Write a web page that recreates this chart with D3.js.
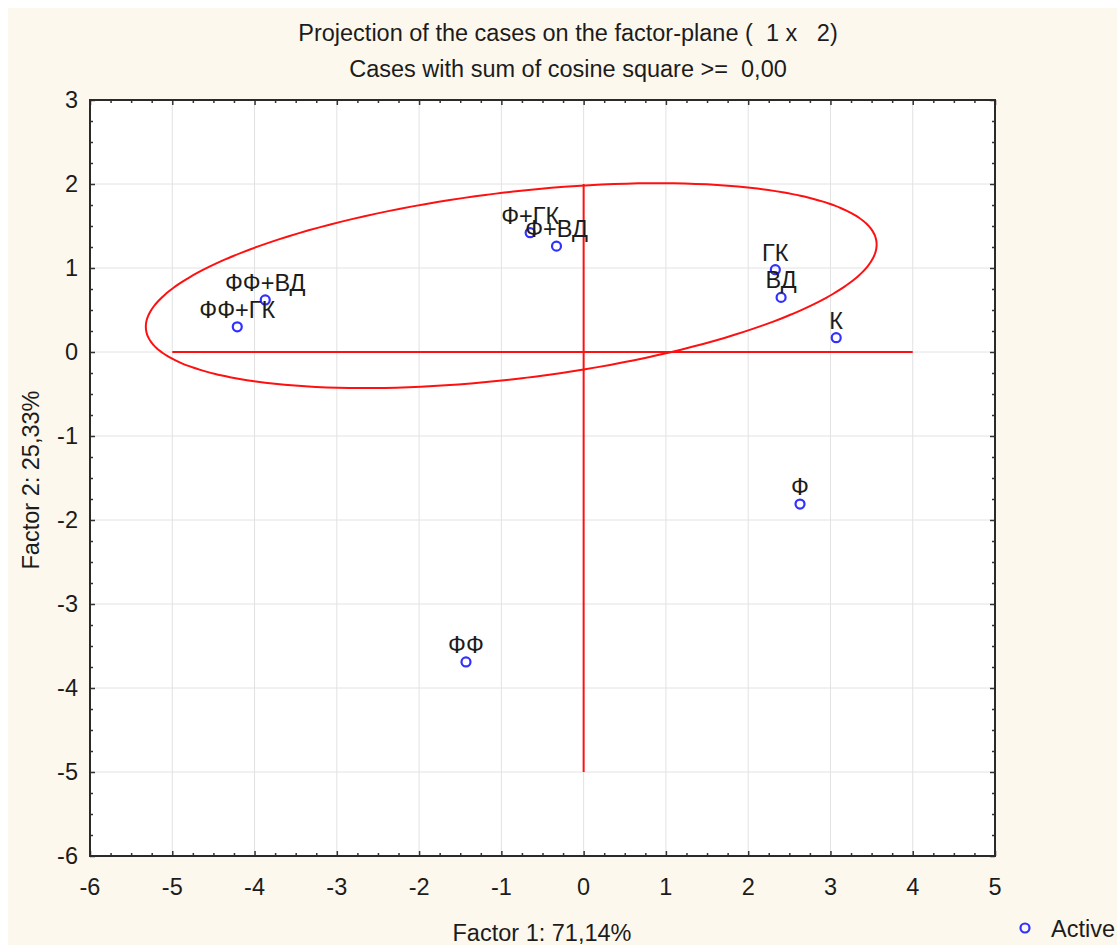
<!DOCTYPE html>
<html>
<head>
<meta charset="utf-8">
<script src="https://cdn.jsdelivr.net/npm/d3@7"></script>
<style>
  html, body { margin: 0; padding: 0; background: #ffffff; }
  svg { display: block; }
  text { font-family: "Liberation Sans", Arial, sans-serif; fill: #1c1c1c; white-space: pre; }
</style>
</head>
<body>
<svg id="chart" width="1117" height="945"></svg>
<script>
// ---- data ----
const labels  = ["Ф+ГК", "Ф+ВД", "ФФ+ВД", "ФФ+ГК", "ГК", "ВД", "К", "Ф", "ФФ"];
const factor1 = [-0.65, -0.33, -3.87, -4.21, 2.33, 2.40, 3.07, 2.63, -1.43];
const factor2 = [1.42, 1.26, 0.62, 0.30, 0.98, 0.65, 0.17, -1.81, -3.69];
const xTicks  = [-6, -5, -4, -3, -2, -1, 0, 1, 2, 3, 4, 5];
const yTicks  = [3, 2, 1, 0, -1, -2, -3, -4, -5, -6];
const hLine   = [[-5, 0], [4, 0]];
const vLine   = [[0, -5], [0, 2]];
const ellipseCenter = [-0.88, 0.79];
const ellipseAxes   = [4.47, 1.11];
const ellipseAngleDeg = 6.7;
const titleLines = ["Projection of the cases on the factor-plane (  1 x   2)",
                    "Cases with sum of cosine square >=  0,00"];
const xTitle = "Factor 1: 71,14%";
const yTitle = "Factor 2: 25,33%";
const legendLabel = "Active";

// ---- layout ----
const svg = d3.select("#chart");
const W = 1117, H = 945;
const M = { left: 90, right: 995, top: 100, bottom: 856 };
const FONT = 23.5;

svg.append("rect").attr("x", 8).attr("y", 8).attr("width", W - 8).attr("height", H - 8)
  .attr("fill", "#fdf8ee");

const x = d3.scaleLinear().domain([-6, 5]).range([M.left, M.right]);
const y = d3.scaleLinear().domain([-6, 3]).range([M.bottom, M.top]);

// plot area
svg.append("rect").attr("x", M.left).attr("y", M.top)
  .attr("width", M.right - M.left).attr("height", M.bottom - M.top)
  .attr("fill", "#ffffff");

// grid
const grid = svg.append("g").attr("stroke", "#e2e2e2").attr("stroke-width", 1);
xTicks.forEach(t => grid.append("line").attr("x1", x(t)).attr("x2", x(t))
  .attr("y1", M.top).attr("y2", M.bottom));
yTicks.forEach(t => grid.append("line").attr("y1", y(t)).attr("y2", y(t))
  .attr("x1", M.left).attr("x2", M.right));

// axes with inward ticks (major + minor)
function minor(domain) {
  const out = [];
  for (let v = domain[0]; v < domain[1] - 1e-9; v += 1) {
    [0.25, 0.5, 0.75].forEach(f => out.push(v + f));
  }
  return out;
}
const axG = svg.append("g");
const xMinor = minor(x.domain()), yMinor = minor(y.domain());
function addAxis(axis, tr) {
  const g = axG.append("g").attr("transform", tr).call(axis);
  g.selectAll(".domain").remove();
  g.selectAll("line").attr("stroke", "#333").attr("stroke-width", 1.5);
  return g;
}
addAxis(d3.axisTop(x).tickValues(xTicks).tickSize(5).tickFormat(""), `translate(0,${M.bottom})`);
addAxis(d3.axisTop(x).tickValues(xMinor).tickSize(3).tickFormat(""), `translate(0,${M.bottom})`);
addAxis(d3.axisBottom(x).tickValues(xTicks).tickSize(5).tickFormat(""), `translate(0,${M.top})`);
addAxis(d3.axisBottom(x).tickValues(xMinor).tickSize(3).tickFormat(""), `translate(0,${M.top})`);
addAxis(d3.axisRight(y).tickValues(yTicks).tickSize(5).tickFormat(""), `translate(${M.left},0)`);
addAxis(d3.axisRight(y).tickValues(yMinor).tickSize(3).tickFormat(""), `translate(${M.left},0)`);
addAxis(d3.axisLeft(y).tickValues(yTicks).tickSize(5).tickFormat(""), `translate(${M.right},0)`);
addAxis(d3.axisLeft(y).tickValues(yMinor).tickSize(3).tickFormat(""), `translate(${M.right},0)`);

// frame
svg.append("rect").attr("x", M.left).attr("y", M.top)
  .attr("width", M.right - M.left).attr("height", M.bottom - M.top)
  .attr("fill", "none").attr("stroke", "#2a2a2a").attr("stroke-width", 2);

// tick labels
svg.append("g").selectAll("text").data(xTicks).join("text")
  .attr("x", d => x(d)).attr("y", M.bottom + 39)
  .attr("text-anchor", "middle").attr("font-size", FONT)
  .text(d => d);
svg.append("g").selectAll("text").data(yTicks).join("text")
  .attr("x", M.left - 12).attr("y", d => y(d) + 8)
  .attr("text-anchor", "end").attr("font-size", FONT)
  .text(d => d);

// red reference lines and ellipse
const line = d3.line().x(d => x(d[0])).y(d => y(d[1]));
svg.append("path").attr("d", line(hLine)).attr("stroke", "#ff1010").attr("stroke-width", 2).attr("fill", "none");
svg.append("path").attr("d", line(vLine)).attr("stroke", "#ff1010").attr("stroke-width", 2).attr("fill", "none");

const th = ellipseAngleDeg * Math.PI / 180;
const ellPts = d3.range(0, 360, 2).map(deg => {
  const t = deg * Math.PI / 180;
  const ex = ellipseAxes[0] * Math.cos(t), ey = ellipseAxes[1] * Math.sin(t);
  return [ellipseCenter[0] + ex * Math.cos(th) - ey * Math.sin(th),
          ellipseCenter[1] + ex * Math.sin(th) + ey * Math.cos(th)];
});
svg.append("path").attr("d", d3.line().x(d => x(d[0])).y(d => y(d[1])).curve(d3.curveCardinalClosed)(ellPts))
  .attr("stroke", "#ff1010").attr("stroke-width", 2).attr("fill", "none");

// points and labels
const pts = labels.map((l, i) => ({ label: l, f1: factor1[i], f2: factor2[i] }));
svg.append("g").selectAll("circle").data(pts).join("circle")
  .attr("cx", d => x(d.f1)).attr("cy", d => y(d.f2)).attr("r", 4.5)
  .attr("fill", "none").attr("stroke", "#3030ff").attr("stroke-width", 2.2);
svg.append("g").selectAll("text").data(pts).join("text")
  .attr("x", d => x(d.f1)).attr("y", d => y(d.f2) - 9)
  .attr("text-anchor", "middle").attr("font-size", FONT)
  .text(d => d.label);

// titles
svg.append("text").attr("x", 568).attr("y", 41).attr("text-anchor", "middle")
  .attr("font-size", FONT).text(titleLines[0]);
svg.append("text").attr("x", 568).attr("y", 77).attr("text-anchor", "middle")
  .attr("font-size", FONT).text(titleLines[1]);
svg.append("text").attr("x", 542).attr("y", 941).attr("text-anchor", "middle")
  .attr("font-size", FONT).text(xTitle);
svg.append("text").attr("transform", "translate(39,480) rotate(-90)")
  .attr("text-anchor", "middle").attr("font-size", FONT).text(yTitle);

// legend
svg.append("circle").attr("cx", 1025).attr("cy", 928).attr("r", 4.5)
  .attr("fill", "none").attr("stroke", "#3030ff").attr("stroke-width", 2.2);
svg.append("text").attr("x", 1051).attr("y", 937).attr("font-size", FONT).text(legendLabel);
</script>
</body>
</html>
